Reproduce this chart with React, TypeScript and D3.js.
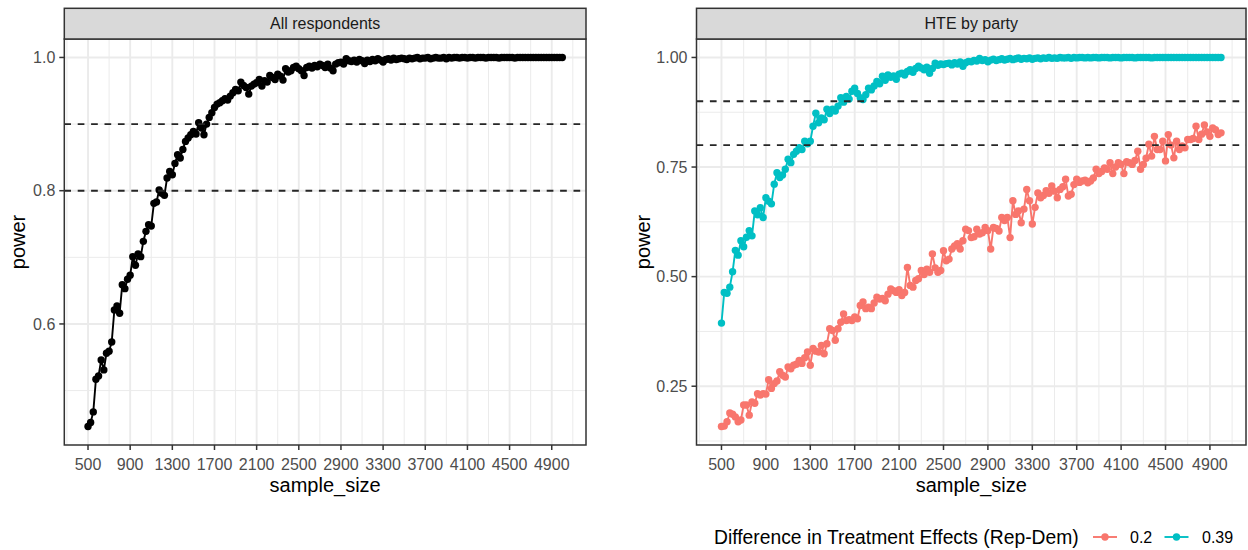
import React, { useRef, useEffect } from "react";
import * as d3 from "d3";

// simulated power by sample size (step 25)
const sampleSizes: number[] = d3.range(500, 5001, 25);

const powerAll = [
  0.446, 0.452, 0.468, 0.517, 0.522, 0.546, 0.531, 0.556, 0.559, 0.573,
  0.621, 0.627, 0.616, 0.659, 0.653, 0.667, 0.673, 0.701, 0.688, 0.705,
  0.701, 0.724, 0.739, 0.749, 0.747, 0.781, 0.783, 0.801, 0.796, 0.793,
  0.819, 0.829, 0.824, 0.841, 0.854, 0.849, 0.862, 0.874, 0.879, 0.884,
  0.889, 0.885, 0.902, 0.894, 0.884, 0.9, 0.91, 0.917, 0.925, 0.93,
  0.932, 0.935, 0.938, 0.936, 0.942, 0.947, 0.952, 0.95, 0.963, 0.958,
  0.955, 0.945, 0.957, 0.96, 0.962, 0.967, 0.957, 0.965, 0.963, 0.973,
  0.97, 0.967, 0.975, 0.972, 0.966, 0.983, 0.978, 0.98, 0.985, 0.987,
  0.983, 0.98, 0.973, 0.985, 0.987, 0.984, 0.988, 0.986, 0.99, 0.988,
  0.985, 0.99, 0.984, 0.98, 0.99, 0.992, 0.993, 0.99, 0.998, 0.995,
  0.994, 0.996, 0.993, 0.997, 0.995, 0.991, 0.996, 0.994, 0.997, 0.995,
  0.998, 0.996, 0.993, 0.997, 0.998, 0.996, 0.999, 0.997, 0.998, 0.999,
  0.998, 0.997, 0.999, 0.998, 0.999, 1, 0.998, 0.999, 0.999, 1,
  0.998, 0.999, 1, 0.999, 0.999, 1, 0.998, 1, 0.999, 1,
  1, 0.999, 1, 1, 0.999, 1, 1, 0.999, 1, 1,
  1, 0.999, 1, 1, 1, 1, 0.999, 1, 1, 1,
  1, 1, 0.999, 1, 1, 1, 1, 1, 1, 1,
  1, 1, 1, 1, 1, 1, 1, 1, 1, 1,
  1,
];

const powerDiff02 = [
  0.158, 0.159, 0.169, 0.189, 0.186, 0.18, 0.169, 0.173, 0.207, 0.207,
  0.184, 0.214, 0.211, 0.233, 0.23, 0.233, 0.232, 0.265, 0.245, 0.256,
  0.262, 0.283, 0.275, 0.271, 0.294, 0.29, 0.298, 0.3, 0.309, 0.302,
  0.315, 0.328, 0.298, 0.336, 0.33, 0.328, 0.343, 0.324, 0.347, 0.381,
  0.377, 0.355, 0.381, 0.396, 0.415, 0.4, 0.402, 0.4, 0.408, 0.404,
  0.434, 0.442, 0.427, 0.43, 0.427, 0.44, 0.453, 0.449, 0.45, 0.445,
  0.46, 0.472, 0.468, 0.464, 0.47, 0.457, 0.464, 0.521, 0.48, 0.476,
  0.491, 0.495, 0.514, 0.505, 0.517, 0.51, 0.552, 0.52, 0.51, 0.514,
  0.559, 0.536, 0.54, 0.563, 0.57, 0.575, 0.563, 0.582, 0.608, 0.605,
  0.589, 0.591, 0.608, 0.597, 0.6, 0.612, 0.605, 0.563, 0.612, 0.61,
  0.604, 0.635, 0.628, 0.635, 0.589, 0.673, 0.642, 0.65, 0.623, 0.654,
  0.699, 0.673, 0.62, 0.658, 0.691, 0.68, 0.685, 0.696, 0.69, 0.707,
  0.695, 0.68, 0.699, 0.705, 0.722, 0.684, 0.688, 0.71, 0.722, 0.715,
  0.718, 0.72, 0.714, 0.718, 0.725, 0.745, 0.735, 0.74, 0.748, 0.745,
  0.76, 0.735, 0.75, 0.76, 0.756, 0.735, 0.762, 0.76, 0.756, 0.765,
  0.786, 0.745, 0.756, 0.77, 0.802, 0.775, 0.82, 0.79, 0.79, 0.809,
  0.764, 0.824, 0.8, 0.771, 0.809, 0.79, 0.798, 0.794, 0.813, 0.813,
  0.815, 0.843, 0.813, 0.825, 0.846, 0.83, 0.82, 0.839, 0.835, 0.824,
  0.828,
];

const powerDiff039 = [
  0.394, 0.464, 0.462, 0.476, 0.511, 0.56, 0.549, 0.582, 0.568, 0.59,
  0.605, 0.593, 0.65, 0.641, 0.657, 0.635, 0.68, 0.672, 0.666, 0.711,
  0.737, 0.726, 0.732, 0.745, 0.768, 0.76, 0.779, 0.786, 0.794, 0.79,
  0.809, 0.803, 0.809, 0.843, 0.873, 0.851, 0.862, 0.858, 0.882, 0.872,
  0.882, 0.878, 0.889, 0.908, 0.898, 0.911, 0.905, 0.923, 0.93, 0.918,
  0.908, 0.904, 0.915, 0.93, 0.926, 0.935, 0.945, 0.94, 0.957, 0.948,
  0.96, 0.955, 0.958, 0.95, 0.962, 0.964, 0.96, 0.968, 0.972, 0.966,
  0.975, 0.98, 0.976, 0.972, 0.978, 0.964, 0.975, 0.987, 0.982, 0.985,
  0.984, 0.986, 0.987, 0.983, 0.988, 0.985, 0.99, 0.98, 0.988, 0.991,
  0.99, 0.993, 0.992, 0.998, 0.993, 0.995, 0.99, 0.994, 0.996, 0.993,
  0.995, 0.997, 0.994, 0.996, 0.998, 0.995, 0.997, 0.999, 0.996, 0.998,
  0.997, 0.999, 0.996, 0.998, 0.999, 0.997, 0.999, 0.998, 1, 0.998,
  0.999, 0.998, 1, 0.999, 0.999, 1, 0.998, 1, 0.999, 1,
  1, 0.999, 1, 0.999, 1, 1, 0.999, 1, 1, 1,
  0.999, 1, 1, 1, 0.999, 1, 1, 1, 1, 0.999,
  1, 1, 1, 1, 1, 0.999, 1, 1, 1, 1,
  1, 1, 1, 1, 1, 1, 1, 1, 1, 1,
  1, 1, 1, 1, 1, 1, 1, 1, 1, 1,
  1,
];

const xTicks = [500, 900, 1300, 1700, 2100, 2500, 2900, 3300, 3700, 4100, 4500, 4900];
const yTicksAll = [0.6, 0.8, 1.0];
const yTicksParty = [0.25, 0.5, 0.75, 1.0];
const thresholds = [0.8, 0.9];
const effectLabels = ["0.2", "0.39"];
const effectColors = ["#F8766D", "#00BFC4"];
const panelTitles = ["All respondents", "HTE by party"];

const FONT = "'Liberation Sans', Arial, Helvetica, sans-serif";
const POINT_R = 3.7;

function minorBreaks(majors: number[], domain: number[]) {
  const step = majors[1] - majors[0];
  const ext = [majors[0] - step, ...majors, majors[majors.length - 1] + step];
  return d3
    .pairs(ext)
    .map(([a, b]) => (a + b) / 2)
    .filter((v) => v >= domain[0] && v <= domain[1]);
}

function drawPanel(svg: any, opts: any) {
  const { left, right, top, bottom, stripTop, title, series, yTicks, yFmt, yTitleX } = opts;

  const xExt = d3.extent(sampleSizes) as number[];
  const xPad = (xExt[1] - xExt[0]) * 0.05;
  const x = d3.scaleLinear().domain([xExt[0] - xPad, xExt[1] + xPad]).range([left, right]);

  const allY = series.flatMap((s: any) => s.values);
  const yExt = d3.extent(allY) as number[];
  const yPad = (yExt[1] - yExt[0]) * 0.05;
  const y = d3.scaleLinear().domain([yExt[0] - yPad, yExt[1] + yPad]).range([bottom, top]);

  const g = svg.append("g");

  g.append("rect")
    .attr("x", left).attr("y", top)
    .attr("width", right - left).attr("height", bottom - top)
    .attr("fill", "#fff");

  // minor grid
  g.selectAll("line.xminor")
    .data(minorBreaks(xTicks, x.domain()))
    .join("line")
    .attr("x1", (d: number) => x(d)).attr("x2", (d: number) => x(d))
    .attr("y1", top).attr("y2", bottom)
    .attr("stroke", "#EBEBEB").attr("stroke-width", 1);
  g.selectAll("line.yminor")
    .data(minorBreaks(yTicks, y.domain()))
    .join("line")
    .attr("x1", left).attr("x2", right)
    .attr("y1", (d: number) => y(d)).attr("y2", (d: number) => y(d))
    .attr("stroke", "#EBEBEB").attr("stroke-width", 1);

  // major grid
  g.selectAll("line.xmajor")
    .data(xTicks)
    .join("line")
    .attr("x1", (d: number) => x(d)).attr("x2", (d: number) => x(d))
    .attr("y1", top).attr("y2", bottom)
    .attr("stroke", "#EBEBEB").attr("stroke-width", 1.9);
  g.selectAll("line.ymajor")
    .data(yTicks)
    .join("line")
    .attr("x1", left).attr("x2", right)
    .attr("y1", (d: number) => y(d)).attr("y2", (d: number) => y(d))
    .attr("stroke", "#EBEBEB").attr("stroke-width", 1.9);

  const line = d3
    .line<number>()
    .x((_d, i) => x(sampleSizes[i]))
    .y((d) => y(d));

  series.forEach((s: any) => {
    g.append("path")
      .attr("d", line(s.values))
      .attr("fill", "none")
      .attr("stroke", s.color)
      .attr("stroke-width", 1.9)
      .attr("stroke-linejoin", "round");
    g.append("g")
      .selectAll("circle")
      .data(s.values)
      .join("circle")
      .attr("cx", (_d: number, i: number) => x(sampleSizes[i]))
      .attr("cy", (d: number) => y(d))
      .attr("r", POINT_R)
      .attr("fill", s.color);
  });

  // threshold lines
  g.selectAll("line.thr")
    .data(thresholds)
    .join("line")
    .attr("x1", left).attr("x2", right)
    .attr("y1", (d: number) => y(d)).attr("y2", (d: number) => y(d))
    .attr("stroke", "#262626")
    .attr("stroke-width", 1.9)
    .attr("stroke-dasharray", "6.7,6.7");

  // border
  g.append("rect")
    .attr("x", left).attr("y", top)
    .attr("width", right - left).attr("height", bottom - top)
    .attr("fill", "none").attr("stroke", "#333").attr("stroke-width", 1.5);

  // strip
  g.append("rect")
    .attr("x", left).attr("y", stripTop)
    .attr("width", right - left).attr("height", top - stripTop)
    .attr("fill", "#D9D9D9").attr("stroke", "#333").attr("stroke-width", 1.5);
  g.append("text")
    .attr("x", (left + right) / 2)
    .attr("y", (stripTop + top) / 2)
    .attr("dy", "0.35em")
    .attr("text-anchor", "middle")
    .attr("fill", "#1A1A1A")
    .style("font-size", "16px")
    .text(title);

  // x axis
  g.selectAll("line.xtick")
    .data(xTicks)
    .join("line")
    .attr("x1", (d: number) => x(d)).attr("x2", (d: number) => x(d))
    .attr("y1", bottom).attr("y2", bottom + 5)
    .attr("stroke", "#333").attr("stroke-width", 1.5);
  g.selectAll("text.xlab")
    .data(xTicks)
    .join("text")
    .attr("x", (d: number) => x(d))
    .attr("y", bottom + 25)
    .attr("text-anchor", "middle")
    .attr("fill", "#4D4D4D")
    .style("font-size", "16px")
    .text((d: number) => String(d));
  g.append("text")
    .attr("x", (left + right) / 2)
    .attr("y", bottom + 47)
    .attr("text-anchor", "middle")
    .attr("fill", "#000")
    .style("font-size", "20px")
    .text("sample_size");

  // y axis
  g.selectAll("line.ytick")
    .data(yTicks)
    .join("line")
    .attr("x1", left - 5).attr("x2", left)
    .attr("y1", (d: number) => y(d)).attr("y2", (d: number) => y(d))
    .attr("stroke", "#333").attr("stroke-width", 1.5);
  g.selectAll("text.ylab")
    .data(yTicks)
    .join("text")
    .attr("x", left - 9)
    .attr("y", (d: number) => y(d))
    .attr("dy", "0.35em")
    .attr("text-anchor", "end")
    .attr("fill", "#4D4D4D")
    .style("font-size", "16px")
    .text((d: number) => d3.format(yFmt)(d));
  g.append("text")
    .attr("transform", `translate(${yTitleX},${(top + bottom) / 2}) rotate(-90)`)
    .attr("dy", "0.35em")
    .attr("text-anchor", "middle")
    .attr("fill", "#000")
    .style("font-size", "20px")
    .text("power");
}

const App = () => {
  const svgRef = useRef<SVGSVGElement>(null);

  useEffect(() => {
    const svg = d3.select(svgRef.current);
    svg.selectAll("*").remove();
    svg.style("font-family", FONT);

    const top = 39;
    const bottom = 445;
    const stripTop = 8.3;

    drawPanel(svg, {
      left: 64.3, right: 586, top, bottom, stripTop,
      title: panelTitles[0],
      series: [{ values: powerAll, color: "#000" }],
      yTicks: yTicksAll, yFmt: ".1f", yTitleX: 18,
    });

    drawPanel(svg, {
      left: 696.5, right: 1246, top, bottom, stripTop,
      title: panelTitles[1],
      series: [
        { values: powerDiff02, color: effectColors[0] },
        { values: powerDiff039, color: effectColors[1] },
      ],
      yTicks: yTicksParty, yFmt: ".2f", yTitleX: 643,
    });

    // legend
    const ly = 537;
    const leg = svg.append("g");
    leg.append("text")
      .attr("x", 714).attr("y", ly).attr("dy", "0.35em")
      .attr("fill", "#000")
      .style("font-size", "19.3px")
      .text("Difference in Treatment Effects (Rep-Dem)");
    const keyX = [1105, 1176.5];
    const labX = [1130, 1202];
    effectLabels.forEach((lab, i) => {
      leg.append("line")
        .attr("x1", keyX[i] - 12).attr("x2", keyX[i] + 12)
        .attr("y1", ly).attr("y2", ly)
        .attr("stroke", effectColors[i]).attr("stroke-width", 1.9);
      leg.append("circle")
        .attr("cx", keyX[i]).attr("cy", ly).attr("r", POINT_R)
        .attr("fill", effectColors[i]);
      leg.append("text")
        .attr("x", labX[i]).attr("y", ly).attr("dy", "0.35em")
        .attr("fill", "#000")
        .style("font-size", "16px")
        .text(lab);
    });
  }, []);

  return (
    <>
      <style>{`body{margin:0}`}</style>
      <svg ref={svgRef} width={1248} height={550} style={{ display: "block", background: "#fff" }} />
    </>
  );
};

export default App;
